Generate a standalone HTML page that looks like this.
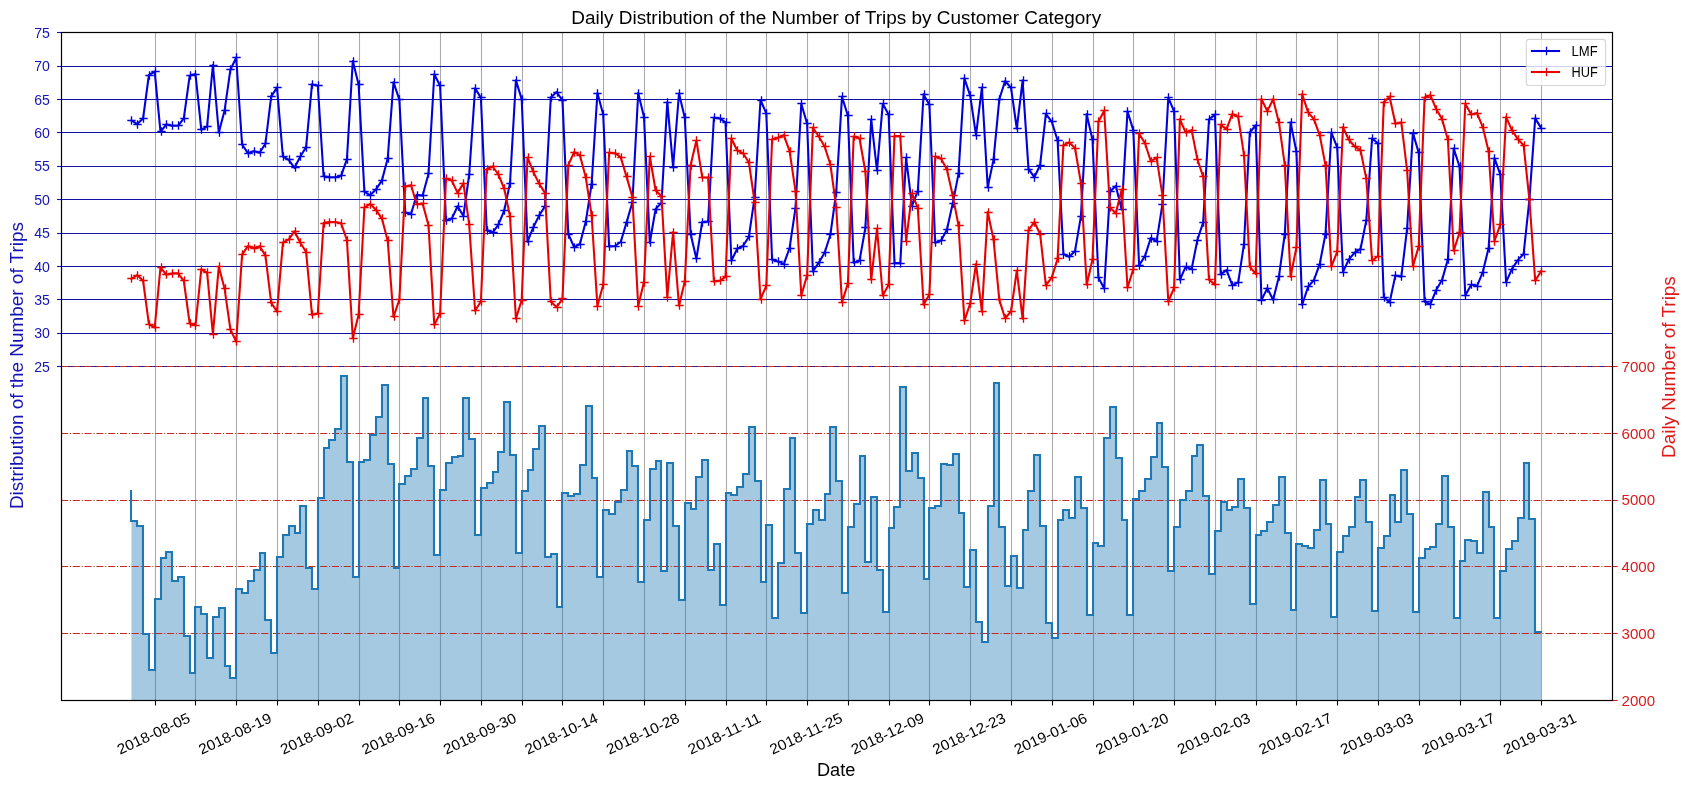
<!DOCTYPE html>
<html><head><meta charset="utf-8"><title>Daily Distribution of the Number of Trips by Customer Category</title>
<style>html,body{margin:0;padding:0;background:#fff;}svg{display:block;will-change:transform;}text{font-family:"Liberation Sans",sans-serif;}</style></head><body>
<svg width="1690" height="790" viewBox="0 0 1690 790">
<rect x="0" y="0" width="1690" height="790" fill="#ffffff"/>
<defs><clipPath id="ax"><rect x="61.00" y="32.60" width="1551.00" height="668.00"/></clipPath></defs>
<g stroke="#ababab" stroke-width="1.1" fill="none"><line x1="155.5" y1="32.6" x2="155.5" y2="700.6"/><line x1="195.5" y1="32.6" x2="195.5" y2="700.6"/><line x1="236.5" y1="32.6" x2="236.5" y2="700.6"/><line x1="277.5" y1="32.6" x2="277.5" y2="700.6"/><line x1="318.5" y1="32.6" x2="318.5" y2="700.6"/><line x1="359.5" y1="32.6" x2="359.5" y2="700.6"/><line x1="399.5" y1="32.6" x2="399.5" y2="700.6"/><line x1="440.5" y1="32.6" x2="440.5" y2="700.6"/><line x1="481.5" y1="32.6" x2="481.5" y2="700.6"/><line x1="522.5" y1="32.6" x2="522.5" y2="700.6"/><line x1="562.5" y1="32.6" x2="562.5" y2="700.6"/><line x1="603.5" y1="32.6" x2="603.5" y2="700.6"/><line x1="644.5" y1="32.6" x2="644.5" y2="700.6"/><line x1="685.5" y1="32.6" x2="685.5" y2="700.6"/><line x1="726.5" y1="32.6" x2="726.5" y2="700.6"/><line x1="766.5" y1="32.6" x2="766.5" y2="700.6"/><line x1="807.5" y1="32.6" x2="807.5" y2="700.6"/><line x1="848.5" y1="32.6" x2="848.5" y2="700.6"/><line x1="889.5" y1="32.6" x2="889.5" y2="700.6"/><line x1="929.5" y1="32.6" x2="929.5" y2="700.6"/><line x1="970.5" y1="32.6" x2="970.5" y2="700.6"/><line x1="1011.5" y1="32.6" x2="1011.5" y2="700.6"/><line x1="1052.5" y1="32.6" x2="1052.5" y2="700.6"/><line x1="1093.5" y1="32.6" x2="1093.5" y2="700.6"/><line x1="1133.5" y1="32.6" x2="1133.5" y2="700.6"/><line x1="1174.5" y1="32.6" x2="1174.5" y2="700.6"/><line x1="1215.5" y1="32.6" x2="1215.5" y2="700.6"/><line x1="1256.5" y1="32.6" x2="1256.5" y2="700.6"/><line x1="1296.5" y1="32.6" x2="1296.5" y2="700.6"/><line x1="1337.5" y1="32.6" x2="1337.5" y2="700.6"/><line x1="1378.5" y1="32.6" x2="1378.5" y2="700.6"/><line x1="1419.5" y1="32.6" x2="1419.5" y2="700.6"/><line x1="1460.5" y1="32.6" x2="1460.5" y2="700.6"/><line x1="1500.5" y1="32.6" x2="1500.5" y2="700.6"/><line x1="1541.5" y1="32.6" x2="1541.5" y2="700.6"/></g>
<g stroke="#1010a8" stroke-width="1.1" fill="none"><line x1="61.0" y1="333.5" x2="1612.0" y2="333.5"/><line x1="61.0" y1="299.5" x2="1612.0" y2="299.5"/><line x1="61.0" y1="266.5" x2="1612.0" y2="266.5"/><line x1="61.0" y1="233.5" x2="1612.0" y2="233.5"/><line x1="61.0" y1="199.5" x2="1612.0" y2="199.5"/><line x1="61.0" y1="166.5" x2="1612.0" y2="166.5"/><line x1="61.0" y1="132.5" x2="1612.0" y2="132.5"/><line x1="61.0" y1="99.5" x2="1612.0" y2="99.5"/><line x1="61.0" y1="66.5" x2="1612.0" y2="66.5"/><line x1="61.0" y1="366.5" x2="1612.0" y2="366.5"/></g>
<g clip-path="url(#ax)"><polyline points="131.4,120.4 137.2,124.1 143.1,118.4 148.9,75.0 154.7,71.7 160.5,131.8 166.4,124.4 172.2,125.8 178.0,125.8 183.8,118.4 189.7,75.7 195.5,74.0 201.3,129.8 207.1,126.5 212.9,65.0 218.8,132.5 224.6,110.4 230.4,69.7 236.2,57.7 242.1,144.5 247.9,153.2 253.7,151.2 259.6,152.8 265.4,143.8 271.2,96.4 277.0,87.7 282.9,156.5 288.7,159.9 294.5,167.9 300.3,156.5 306.1,147.2 312.0,84.4 317.8,85.7 323.6,176.2 329.5,177.2 335.3,177.2 341.1,175.9 346.9,159.2 352.8,61.0 358.6,84.4 364.4,191.6 370.2,195.3 376.1,189.2 381.9,180.6 387.7,158.5 393.5,82.4 399.4,99.7 405.2,212.6 411.0,214.0 416.8,194.9 422.6,195.6 428.5,173.9 434.3,74.3 440.1,85.7 446.0,220.6 451.8,218.6 457.6,206.3 463.4,216.0 469.2,174.5 475.1,88.4 480.9,97.7 486.7,230.0 492.6,232.7 498.4,224.7 504.2,210.6 510.0,183.2 515.9,80.4 521.7,99.1 527.5,241.7 533.3,227.3 539.1,215.6 545.0,206.3 550.8,97.4 556.6,92.1 562.5,100.4 568.3,234.0 574.1,247.1 579.9,244.0 585.8,221.6 591.6,184.2 597.4,93.1 603.2,114.4 609.1,246.4 614.9,246.0 620.7,242.0 626.5,222.6 632.4,202.3 638.2,93.1 644.0,117.1 649.8,242.7 655.6,209.0 661.5,202.9 667.3,102.1 673.1,167.2 679.0,93.5 684.8,117.8 690.6,234.0 696.4,258.7 702.2,222.0 708.1,221.6 713.9,117.8 719.7,118.4 725.5,122.4 731.4,260.7 737.2,248.7 743.0,246.0 748.9,236.7 754.7,196.9 760.5,100.0 766.3,113.4 772.1,259.8 778.0,261.4 783.8,264.1 789.6,248.0 795.5,207.9 801.3,103.7 807.1,123.8 812.9,271.4 818.8,262.7 824.6,252.7 830.4,234.7 836.2,192.3 842.0,96.7 847.9,115.8 853.7,262.7 859.5,260.7 865.4,227.7 871.2,119.4 877.0,170.5 882.8,103.7 888.6,114.4 894.5,263.1 900.3,263.1 906.1,157.8 912.0,205.9 917.8,191.2 923.6,94.4 929.4,104.7 935.2,242.7 941.1,240.4 946.9,229.7 952.7,203.6 958.5,173.9 964.4,78.4 970.2,95.7 976.0,135.1 981.9,87.7 987.7,187.2 993.5,159.9 999.3,99.3 1005.1,81.0 1011.0,87.7 1016.8,128.5 1022.6,80.6 1028.5,168.9 1034.3,177.2 1040.1,165.2 1045.9,113.8 1051.8,121.8 1057.6,140.5 1063.4,254.0 1069.2,256.7 1075.0,251.2 1080.9,216.3 1086.7,114.4 1092.5,139.8 1098.4,277.4 1104.2,288.4 1110.0,191.6 1115.8,185.9 1121.7,209.6 1127.5,111.4 1133.3,130.1 1139.1,265.4 1145.0,256.0 1150.8,238.0 1156.6,241.3 1162.4,204.3 1168.3,97.7 1174.1,111.4 1179.9,279.8 1185.7,266.7 1191.6,269.1 1197.4,240.0 1203.2,222.3 1209.0,119.4 1214.9,114.6 1220.7,274.4 1226.5,270.1 1232.3,285.2 1238.2,282.4 1244.0,244.0 1249.8,132.5 1255.6,125.4 1261.5,300.1 1267.3,288.1 1273.1,299.9 1278.9,276.8 1284.8,234.0 1290.6,122.4 1296.4,151.8 1302.2,304.8 1308.1,286.8 1313.9,280.1 1319.7,264.1 1325.5,234.0 1331.4,132.7 1337.2,147.4 1343.0,272.1 1348.8,259.4 1354.7,252.7 1360.5,249.0 1366.3,220.6 1372.1,138.5 1378.0,143.2 1383.8,297.1 1389.6,302.5 1395.4,275.4 1401.3,276.8 1407.1,228.7 1412.9,132.9 1418.7,152.8 1424.6,301.8 1430.4,304.1 1436.2,290.1 1442.0,280.1 1447.9,259.4 1453.7,148.5 1459.5,166.5 1465.3,295.5 1471.2,284.8 1477.0,286.1 1482.8,272.1 1488.6,248.0 1494.5,158.2 1500.3,174.5 1506.1,282.1 1511.9,269.1 1517.8,260.1 1523.6,254.0 1529.4,199.6 1535.2,118.4 1541.1,128.0" fill="none" stroke="#0000de" stroke-width="2.08" stroke-linejoin="round" stroke-linecap="square"/><path d="M127.3 120.5H135.7M131.5 116.3V124.7M133.3 124.5H141.7M137.5 120.3V128.7M139.3 118.5H147.7M143.5 114.3V122.7M145.3 75.5H153.7M149.5 71.3V79.7M151.3 71.5H159.7M155.5 67.3V75.7M157.3 131.5H165.7M161.5 127.3V135.7M162.3 124.5H170.7M166.5 120.3V128.7M168.3 125.5H176.7M172.5 121.3V129.7M174.3 125.5H182.7M178.5 121.3V129.7M180.3 118.5H188.7M184.5 114.3V122.7M186.3 75.5H194.7M190.5 71.3V79.7M191.3 74.5H199.7M195.5 70.3V78.7M197.3 129.5H205.7M201.5 125.3V133.7M203.3 126.5H211.7M207.5 122.3V130.7M209.3 65.5H217.7M213.5 61.3V69.7M215.3 132.5H223.7M219.5 128.3V136.7M221.3 110.5H229.7M225.5 106.3V114.7M226.3 69.5H234.7M230.5 65.3V73.7M232.3 57.5H240.7M236.5 53.3V61.7M238.3 144.5H246.7M242.5 140.3V148.7M244.3 153.5H252.7M248.5 149.3V157.7M250.3 151.5H258.7M254.5 147.3V155.7M256.3 152.5H264.7M260.5 148.3V156.7M261.3 143.5H269.7M265.5 139.3V147.7M267.3 96.5H275.7M271.5 92.3V100.7M273.3 87.5H281.7M277.5 83.3V91.7M279.3 156.5H287.7M283.5 152.3V160.7M285.3 159.5H293.7M289.5 155.3V163.7M291.3 167.5H299.7M295.5 163.3V171.7M296.3 156.5H304.7M300.5 152.3V160.7M302.3 147.5H310.7M306.5 143.3V151.7M308.3 84.5H316.7M312.5 80.3V88.7M314.3 85.5H322.7M318.5 81.3V89.7M320.3 176.5H328.7M324.5 172.3V180.7M325.3 177.5H333.7M329.5 173.3V181.7M331.3 177.5H339.7M335.5 173.3V181.7M337.3 175.5H345.7M341.5 171.3V179.7M343.3 159.5H351.7M347.5 155.3V163.7M349.3 61.5H357.7M353.5 57.3V65.7M355.3 84.5H363.7M359.5 80.3V88.7M360.3 191.5H368.7M364.5 187.3V195.7M366.3 195.5H374.7M370.5 191.3V199.7M372.3 189.5H380.7M376.5 185.3V193.7M378.3 180.5H386.7M382.5 176.3V184.7M384.3 158.5H392.7M388.5 154.3V162.7M390.3 82.5H398.7M394.5 78.3V86.7M395.3 99.5H403.7M399.5 95.3V103.7M401.3 212.5H409.7M405.5 208.3V216.7M407.3 214.5H415.7M411.5 210.3V218.7M413.3 195.5H421.7M417.5 191.3V199.7M419.3 195.5H427.7M423.5 191.3V199.7M424.3 173.5H432.7M428.5 169.3V177.7M430.3 74.5H438.7M434.5 70.3V78.7M436.3 85.5H444.7M440.5 81.3V89.7M442.3 220.5H450.7M446.5 216.3V224.7M448.3 218.5H456.7M452.5 214.3V222.7M454.3 206.5H462.7M458.5 202.3V210.7M459.3 216.5H467.7M463.5 212.3V220.7M465.3 174.5H473.7M469.5 170.3V178.7M471.3 88.5H479.7M475.5 84.3V92.7M477.3 97.5H485.7M481.5 93.3V101.7M483.3 230.5H491.7M487.5 226.3V234.7M489.3 232.5H497.7M493.5 228.3V236.7M494.3 224.5H502.7M498.5 220.3V228.7M500.3 210.5H508.7M504.5 206.3V214.7M506.3 183.5H514.7M510.5 179.3V187.7M512.3 80.5H520.7M516.5 76.3V84.7M518.3 99.5H526.7M522.5 95.3V103.7M524.3 241.5H532.7M528.5 237.3V245.7M529.3 227.5H537.7M533.5 223.3V231.7M535.3 215.5H543.7M539.5 211.3V219.7M541.3 206.5H549.7M545.5 202.3V210.7M547.3 97.5H555.7M551.5 93.3V101.7M553.3 92.5H561.7M557.5 88.3V96.7M558.3 100.5H566.7M562.5 96.3V104.7M564.3 234.5H572.7M568.5 230.3V238.7M570.3 247.5H578.7M574.5 243.3V251.7M576.3 244.5H584.7M580.5 240.3V248.7M582.3 221.5H590.7M586.5 217.3V225.7M588.3 184.5H596.7M592.5 180.3V188.7M593.3 93.5H601.7M597.5 89.3V97.7M599.3 114.5H607.7M603.5 110.3V118.7M605.3 246.5H613.7M609.5 242.3V250.7M611.3 246.5H619.7M615.5 242.3V250.7M617.3 242.5H625.7M621.5 238.3V246.7M623.3 222.5H631.7M627.5 218.3V226.7M628.3 202.5H636.7M632.5 198.3V206.7M634.3 93.5H642.7M638.5 89.3V97.7M640.3 117.5H648.7M644.5 113.3V121.7M646.3 242.5H654.7M650.5 238.3V246.7M652.3 209.5H660.7M656.5 205.3V213.7M657.3 203.5H665.7M661.5 199.3V207.7M663.3 102.5H671.7M667.5 98.3V106.7M669.3 167.5H677.7M673.5 163.3V171.7M675.3 93.5H683.7M679.5 89.3V97.7M681.3 117.5H689.7M685.5 113.3V121.7M687.3 234.5H695.7M691.5 230.3V238.7M692.3 258.5H700.7M696.5 254.3V262.7M698.3 222.5H706.7M702.5 218.3V226.7M704.3 221.5H712.7M708.5 217.3V225.7M710.3 117.5H718.7M714.5 113.3V121.7M716.3 118.5H724.7M720.5 114.3V122.7M722.3 122.5H730.7M726.5 118.3V126.7M727.3 260.5H735.7M731.5 256.3V264.7M733.3 248.5H741.7M737.5 244.3V252.7M739.3 246.5H747.7M743.5 242.3V250.7M745.3 236.5H753.7M749.5 232.3V240.7M751.3 197.5H759.7M755.5 193.3V201.7M757.3 100.5H765.7M761.5 96.3V104.7M762.3 113.5H770.7M766.5 109.3V117.7M768.3 259.5H776.7M772.5 255.3V263.7M774.3 261.5H782.7M778.5 257.3V265.7M780.3 264.5H788.7M784.5 260.3V268.7M786.3 248.5H794.7M790.5 244.3V252.7M791.3 208.5H799.7M795.5 204.3V212.7M797.3 103.5H805.7M801.5 99.3V107.7M803.3 123.5H811.7M807.5 119.3V127.7M809.3 271.5H817.7M813.5 267.3V275.7M815.3 262.5H823.7M819.5 258.3V266.7M821.3 252.5H829.7M825.5 248.3V256.7M826.3 234.5H834.7M830.5 230.3V238.7M832.3 192.5H840.7M836.5 188.3V196.7M838.3 96.5H846.7M842.5 92.3V100.7M844.3 115.5H852.7M848.5 111.3V119.7M850.3 262.5H858.7M854.5 258.3V266.7M856.3 260.5H864.7M860.5 256.3V264.7M861.3 227.5H869.7M865.5 223.3V231.7M867.3 119.5H875.7M871.5 115.3V123.7M873.3 170.5H881.7M877.5 166.3V174.7M879.3 103.5H887.7M883.5 99.3V107.7M885.3 114.5H893.7M889.5 110.3V118.7M890.3 263.5H898.7M894.5 259.3V267.7M896.3 263.5H904.7M900.5 259.3V267.7M902.3 157.5H910.7M906.5 153.3V161.7M908.3 206.5H916.7M912.5 202.3V210.7M914.3 191.5H922.7M918.5 187.3V195.7M920.3 94.5H928.7M924.5 90.3V98.7M925.3 104.5H933.7M929.5 100.3V108.7M931.3 242.5H939.7M935.5 238.3V246.7M937.3 240.5H945.7M941.5 236.3V244.7M943.3 229.5H951.7M947.5 225.3V233.7M949.3 203.5H957.7M953.5 199.3V207.7M955.3 173.5H963.7M959.5 169.3V177.7M960.3 78.5H968.7M964.5 74.3V82.7M966.3 95.5H974.7M970.5 91.3V99.7M972.3 135.5H980.7M976.5 131.3V139.7M978.3 87.5H986.7M982.5 83.3V91.7M984.3 187.5H992.7M988.5 183.3V191.7M990.3 159.5H998.7M994.5 155.3V163.7M995.3 99.5H1003.7M999.5 95.3V103.7M1001.3 81.5H1009.7M1005.5 77.3V85.7M1007.3 87.5H1015.7M1011.5 83.3V91.7M1013.3 128.5H1021.7M1017.5 124.3V132.7M1019.3 80.5H1027.7M1023.5 76.3V84.7M1024.3 169.5H1032.7M1028.5 165.3V173.7M1030.3 177.5H1038.7M1034.5 173.3V181.7M1036.3 165.5H1044.7M1040.5 161.3V169.7M1042.3 113.5H1050.7M1046.5 109.3V117.7M1048.3 121.5H1056.7M1052.5 117.3V125.7M1054.3 140.5H1062.7M1058.5 136.3V144.7M1059.3 254.5H1067.7M1063.5 250.3V258.7M1065.3 256.5H1073.7M1069.5 252.3V260.7M1071.3 251.5H1079.7M1075.5 247.3V255.7M1077.3 216.5H1085.7M1081.5 212.3V220.7M1083.3 114.5H1091.7M1087.5 110.3V118.7M1089.3 139.5H1097.7M1093.5 135.3V143.7M1094.3 277.5H1102.7M1098.5 273.3V281.7M1100.3 288.5H1108.7M1104.5 284.3V292.7M1106.3 191.5H1114.7M1110.5 187.3V195.7M1112.3 186.5H1120.7M1116.5 182.3V190.7M1118.3 209.5H1126.7M1122.5 205.3V213.7M1123.3 111.5H1131.7M1127.5 107.3V115.7M1129.3 130.5H1137.7M1133.5 126.3V134.7M1135.3 265.5H1143.7M1139.5 261.3V269.7M1141.3 256.5H1149.7M1145.5 252.3V260.7M1147.3 238.5H1155.7M1151.5 234.3V242.7M1153.3 241.5H1161.7M1157.5 237.3V245.7M1158.3 204.5H1166.7M1162.5 200.3V208.7M1164.3 97.5H1172.7M1168.5 93.3V101.7M1170.3 111.5H1178.7M1174.5 107.3V115.7M1176.3 279.5H1184.7M1180.5 275.3V283.7M1182.3 266.5H1190.7M1186.5 262.3V270.7M1188.3 269.5H1196.7M1192.5 265.3V273.7M1193.3 240.5H1201.7M1197.5 236.3V244.7M1199.3 222.5H1207.7M1203.5 218.3V226.7M1205.3 119.5H1213.7M1209.5 115.3V123.7M1211.3 114.5H1219.7M1215.5 110.3V118.7M1217.3 274.5H1225.7M1221.5 270.3V278.7M1223.3 270.5H1231.7M1227.5 266.3V274.7M1228.3 285.5H1236.7M1232.5 281.3V289.7M1234.3 282.5H1242.7M1238.5 278.3V286.7M1240.3 244.5H1248.7M1244.5 240.3V248.7M1246.3 132.5H1254.7M1250.5 128.3V136.7M1252.3 125.5H1260.7M1256.5 121.3V129.7M1257.3 300.5H1265.7M1261.5 296.3V304.7M1263.3 288.5H1271.7M1267.5 284.3V292.7M1269.3 299.5H1277.7M1273.5 295.3V303.7M1275.3 276.5H1283.7M1279.5 272.3V280.7M1281.3 234.5H1289.7M1285.5 230.3V238.7M1287.3 122.5H1295.7M1291.5 118.3V126.7M1292.3 151.5H1300.7M1296.5 147.3V155.7M1298.3 304.5H1306.7M1302.5 300.3V308.7M1304.3 286.5H1312.7M1308.5 282.3V290.7M1310.3 280.5H1318.7M1314.5 276.3V284.7M1316.3 264.5H1324.7M1320.5 260.3V268.7M1322.3 234.5H1330.7M1326.5 230.3V238.7M1327.3 132.5H1335.7M1331.5 128.3V136.7M1333.3 147.5H1341.7M1337.5 143.3V151.7M1339.3 272.5H1347.7M1343.5 268.3V276.7M1345.3 259.5H1353.7M1349.5 255.3V263.7M1351.3 252.5H1359.7M1355.5 248.3V256.7M1356.3 249.5H1364.7M1360.5 245.3V253.7M1362.3 220.5H1370.7M1366.5 216.3V224.7M1368.3 138.5H1376.7M1372.5 134.3V142.7M1374.3 143.5H1382.7M1378.5 139.3V147.7M1380.3 297.5H1388.7M1384.5 293.3V301.7M1386.3 302.5H1394.7M1390.5 298.3V306.7M1391.3 275.5H1399.7M1395.5 271.3V279.7M1397.3 276.5H1405.7M1401.5 272.3V280.7M1403.3 228.5H1411.7M1407.5 224.3V232.7M1409.3 133.5H1417.7M1413.5 129.3V137.7M1415.3 152.5H1423.7M1419.5 148.3V156.7M1421.3 301.5H1429.7M1425.5 297.3V305.7M1426.3 304.5H1434.7M1430.5 300.3V308.7M1432.3 290.5H1440.7M1436.5 286.3V294.7M1438.3 280.5H1446.7M1442.5 276.3V284.7M1444.3 259.5H1452.7M1448.5 255.3V263.7M1450.3 148.5H1458.7M1454.5 144.3V152.7M1456.3 166.5H1464.7M1460.5 162.3V170.7M1461.3 295.5H1469.7M1465.5 291.3V299.7M1467.3 284.5H1475.7M1471.5 280.3V288.7M1473.3 286.5H1481.7M1477.5 282.3V290.7M1479.3 272.5H1487.7M1483.5 268.3V276.7M1485.3 248.5H1493.7M1489.5 244.3V252.7M1490.3 158.5H1498.7M1494.5 154.3V162.7M1496.3 174.5H1504.7M1500.5 170.3V178.7M1502.3 282.5H1510.7M1506.5 278.3V286.7M1508.3 269.5H1516.7M1512.5 265.3V273.7M1514.3 260.5H1522.7M1518.5 256.3V264.7M1520.3 254.5H1528.7M1524.5 250.3V258.7M1525.3 199.5H1533.7M1529.5 195.3V203.7M1531.3 118.5H1539.7M1535.5 114.3V122.7M1537.3 128.5H1545.7M1541.5 124.3V132.7" stroke="#0000de" stroke-width="1.35" fill="none"/></g>
<g clip-path="url(#ax)"><polyline points="131.4,278.8 137.2,275.1 143.1,280.8 148.9,324.2 154.7,327.5 160.5,267.4 166.4,274.8 172.2,273.4 178.0,273.4 183.8,280.8 189.7,323.5 195.5,325.2 201.3,269.4 207.1,272.7 212.9,334.2 218.8,266.7 224.6,288.8 230.4,329.5 236.2,341.6 242.1,254.7 247.9,246.0 253.7,248.0 259.6,246.4 265.4,255.4 271.2,302.8 277.0,311.5 282.9,242.7 288.7,239.3 294.5,231.3 300.3,242.7 306.1,252.0 312.0,314.8 317.8,313.5 323.6,223.0 329.5,222.0 335.3,222.0 341.1,223.3 346.9,240.0 352.8,338.2 358.6,314.8 364.4,207.6 370.2,203.9 376.1,210.0 381.9,218.6 387.7,240.7 393.5,316.8 399.4,299.5 405.2,186.6 411.0,185.2 416.8,204.3 422.6,203.6 428.5,225.3 434.3,324.9 440.1,313.5 446.0,178.6 451.8,180.6 457.6,192.9 463.4,183.2 469.2,224.7 475.1,310.8 480.9,301.5 486.7,169.2 492.6,166.5 498.4,174.5 504.2,188.6 510.0,216.0 515.9,318.8 521.7,300.1 527.5,157.5 533.3,171.9 539.1,183.6 545.0,192.9 550.8,301.8 556.6,307.1 562.5,298.8 568.3,165.2 574.1,152.1 579.9,155.2 585.8,177.6 591.6,215.0 597.4,306.1 603.2,284.8 609.1,152.8 614.9,153.2 620.7,157.2 626.5,176.6 632.4,196.9 638.2,306.1 644.0,282.1 649.8,156.5 655.6,190.2 661.5,196.3 667.3,297.1 673.1,232.0 679.0,305.7 684.8,281.4 690.6,165.2 696.4,140.5 702.2,177.2 708.1,177.6 713.9,281.4 719.7,280.8 725.5,276.8 731.4,138.5 737.2,150.5 743.0,153.2 748.9,162.5 754.7,202.3 760.5,299.2 766.3,285.8 772.1,139.4 778.0,137.8 783.8,135.1 789.6,151.2 795.5,191.2 801.3,295.5 807.1,275.4 812.9,127.8 818.8,136.5 824.6,146.5 830.4,164.5 836.2,206.9 842.0,302.5 847.9,283.4 853.7,136.5 859.5,138.5 865.4,171.5 871.2,279.8 877.0,228.7 882.8,295.5 888.6,284.8 894.5,136.1 900.3,136.1 906.1,241.3 912.0,193.3 917.8,207.9 923.6,304.8 929.4,294.5 935.2,156.5 941.1,158.8 946.9,169.5 952.7,195.6 958.5,225.3 964.4,320.8 970.2,303.5 976.0,264.1 981.9,311.5 987.7,212.0 993.5,239.3 999.3,299.9 1005.1,318.2 1011.0,311.5 1016.8,270.7 1022.6,318.6 1028.5,230.3 1034.3,222.0 1040.1,234.0 1045.9,285.4 1051.8,277.4 1057.6,258.7 1063.4,145.2 1069.2,142.5 1075.0,148.0 1080.9,182.9 1086.7,284.8 1092.5,259.4 1098.4,121.8 1104.2,110.8 1110.0,207.6 1115.8,213.3 1121.7,189.6 1127.5,287.8 1133.3,269.1 1139.1,133.8 1145.0,143.2 1150.8,161.2 1156.6,157.8 1162.4,194.9 1168.3,301.5 1174.1,287.8 1179.9,119.4 1185.7,132.5 1191.6,130.1 1197.4,159.2 1203.2,176.9 1209.0,279.8 1214.9,284.6 1220.7,124.8 1226.5,129.1 1232.3,114.0 1238.2,116.8 1244.0,155.2 1249.8,266.7 1255.6,273.8 1261.5,99.1 1267.3,111.1 1273.1,99.3 1278.9,122.4 1284.8,165.2 1290.6,276.8 1296.4,247.4 1302.2,94.4 1308.1,112.4 1313.9,119.1 1319.7,135.1 1325.5,165.2 1331.4,266.5 1337.2,251.8 1343.0,127.1 1348.8,139.8 1354.7,146.5 1360.5,150.2 1366.3,178.6 1372.1,260.7 1378.0,256.0 1383.8,102.1 1389.6,96.7 1395.4,123.8 1401.3,122.4 1407.1,170.5 1412.9,266.3 1418.7,246.4 1424.6,97.4 1430.4,95.1 1436.2,109.1 1442.0,119.1 1447.9,139.8 1453.7,250.7 1459.5,232.7 1465.3,103.7 1471.2,114.4 1477.0,113.1 1482.8,127.1 1488.6,151.2 1494.5,241.0 1500.3,224.7 1506.1,117.1 1511.9,130.1 1517.8,139.1 1523.6,145.2 1529.4,199.6 1535.2,280.8 1541.1,271.2" fill="none" stroke="#e80000" stroke-width="2.08" stroke-linejoin="round" stroke-linecap="square"/><path d="M127.3 278.5H135.7M131.5 274.3V282.7M133.3 275.5H141.7M137.5 271.3V279.7M139.3 280.5H147.7M143.5 276.3V284.7M145.3 324.5H153.7M149.5 320.3V328.7M151.3 327.5H159.7M155.5 323.3V331.7M157.3 267.5H165.7M161.5 263.3V271.7M162.3 274.5H170.7M166.5 270.3V278.7M168.3 273.5H176.7M172.5 269.3V277.7M174.3 273.5H182.7M178.5 269.3V277.7M180.3 280.5H188.7M184.5 276.3V284.7M186.3 323.5H194.7M190.5 319.3V327.7M191.3 325.5H199.7M195.5 321.3V329.7M197.3 269.5H205.7M201.5 265.3V273.7M203.3 272.5H211.7M207.5 268.3V276.7M209.3 334.5H217.7M213.5 330.3V338.7M215.3 266.5H223.7M219.5 262.3V270.7M221.3 288.5H229.7M225.5 284.3V292.7M226.3 329.5H234.7M230.5 325.3V333.7M232.3 341.5H240.7M236.5 337.3V345.7M238.3 254.5H246.7M242.5 250.3V258.7M244.3 246.5H252.7M248.5 242.3V250.7M250.3 248.5H258.7M254.5 244.3V252.7M256.3 246.5H264.7M260.5 242.3V250.7M261.3 255.5H269.7M265.5 251.3V259.7M267.3 302.5H275.7M271.5 298.3V306.7M273.3 311.5H281.7M277.5 307.3V315.7M279.3 242.5H287.7M283.5 238.3V246.7M285.3 239.5H293.7M289.5 235.3V243.7M291.3 231.5H299.7M295.5 227.3V235.7M296.3 242.5H304.7M300.5 238.3V246.7M302.3 252.5H310.7M306.5 248.3V256.7M308.3 314.5H316.7M312.5 310.3V318.7M314.3 313.5H322.7M318.5 309.3V317.7M320.3 223.5H328.7M324.5 219.3V227.7M325.3 222.5H333.7M329.5 218.3V226.7M331.3 222.5H339.7M335.5 218.3V226.7M337.3 223.5H345.7M341.5 219.3V227.7M343.3 240.5H351.7M347.5 236.3V244.7M349.3 338.5H357.7M353.5 334.3V342.7M355.3 314.5H363.7M359.5 310.3V318.7M360.3 207.5H368.7M364.5 203.3V211.7M366.3 204.5H374.7M370.5 200.3V208.7M372.3 210.5H380.7M376.5 206.3V214.7M378.3 218.5H386.7M382.5 214.3V222.7M384.3 240.5H392.7M388.5 236.3V244.7M390.3 316.5H398.7M394.5 312.3V320.7M395.3 299.5H403.7M399.5 295.3V303.7M401.3 186.5H409.7M405.5 182.3V190.7M407.3 185.5H415.7M411.5 181.3V189.7M413.3 204.5H421.7M417.5 200.3V208.7M419.3 203.5H427.7M423.5 199.3V207.7M424.3 225.5H432.7M428.5 221.3V229.7M430.3 324.5H438.7M434.5 320.3V328.7M436.3 313.5H444.7M440.5 309.3V317.7M442.3 178.5H450.7M446.5 174.3V182.7M448.3 180.5H456.7M452.5 176.3V184.7M454.3 193.5H462.7M458.5 189.3V197.7M459.3 183.5H467.7M463.5 179.3V187.7M465.3 224.5H473.7M469.5 220.3V228.7M471.3 310.5H479.7M475.5 306.3V314.7M477.3 301.5H485.7M481.5 297.3V305.7M483.3 169.5H491.7M487.5 165.3V173.7M489.3 166.5H497.7M493.5 162.3V170.7M494.3 174.5H502.7M498.5 170.3V178.7M500.3 188.5H508.7M504.5 184.3V192.7M506.3 216.5H514.7M510.5 212.3V220.7M512.3 318.5H520.7M516.5 314.3V322.7M518.3 300.5H526.7M522.5 296.3V304.7M524.3 157.5H532.7M528.5 153.3V161.7M529.3 171.5H537.7M533.5 167.3V175.7M535.3 183.5H543.7M539.5 179.3V187.7M541.3 193.5H549.7M545.5 189.3V197.7M547.3 301.5H555.7M551.5 297.3V305.7M553.3 307.5H561.7M557.5 303.3V311.7M558.3 298.5H566.7M562.5 294.3V302.7M564.3 165.5H572.7M568.5 161.3V169.7M570.3 152.5H578.7M574.5 148.3V156.7M576.3 155.5H584.7M580.5 151.3V159.7M582.3 177.5H590.7M586.5 173.3V181.7M588.3 215.5H596.7M592.5 211.3V219.7M593.3 306.5H601.7M597.5 302.3V310.7M599.3 284.5H607.7M603.5 280.3V288.7M605.3 152.5H613.7M609.5 148.3V156.7M611.3 153.5H619.7M615.5 149.3V157.7M617.3 157.5H625.7M621.5 153.3V161.7M623.3 176.5H631.7M627.5 172.3V180.7M628.3 197.5H636.7M632.5 193.3V201.7M634.3 306.5H642.7M638.5 302.3V310.7M640.3 282.5H648.7M644.5 278.3V286.7M646.3 156.5H654.7M650.5 152.3V160.7M652.3 190.5H660.7M656.5 186.3V194.7M657.3 196.5H665.7M661.5 192.3V200.7M663.3 297.5H671.7M667.5 293.3V301.7M669.3 232.5H677.7M673.5 228.3V236.7M675.3 305.5H683.7M679.5 301.3V309.7M681.3 281.5H689.7M685.5 277.3V285.7M687.3 165.5H695.7M691.5 161.3V169.7M692.3 140.5H700.7M696.5 136.3V144.7M698.3 177.5H706.7M702.5 173.3V181.7M704.3 177.5H712.7M708.5 173.3V181.7M710.3 281.5H718.7M714.5 277.3V285.7M716.3 280.5H724.7M720.5 276.3V284.7M722.3 276.5H730.7M726.5 272.3V280.7M727.3 138.5H735.7M731.5 134.3V142.7M733.3 150.5H741.7M737.5 146.3V154.7M739.3 153.5H747.7M743.5 149.3V157.7M745.3 162.5H753.7M749.5 158.3V166.7M751.3 202.5H759.7M755.5 198.3V206.7M757.3 299.5H765.7M761.5 295.3V303.7M762.3 285.5H770.7M766.5 281.3V289.7M768.3 139.5H776.7M772.5 135.3V143.7M774.3 137.5H782.7M778.5 133.3V141.7M780.3 135.5H788.7M784.5 131.3V139.7M786.3 151.5H794.7M790.5 147.3V155.7M791.3 191.5H799.7M795.5 187.3V195.7M797.3 295.5H805.7M801.5 291.3V299.7M803.3 275.5H811.7M807.5 271.3V279.7M809.3 127.5H817.7M813.5 123.3V131.7M815.3 136.5H823.7M819.5 132.3V140.7M821.3 146.5H829.7M825.5 142.3V150.7M826.3 164.5H834.7M830.5 160.3V168.7M832.3 207.5H840.7M836.5 203.3V211.7M838.3 302.5H846.7M842.5 298.3V306.7M844.3 283.5H852.7M848.5 279.3V287.7M850.3 136.5H858.7M854.5 132.3V140.7M856.3 138.5H864.7M860.5 134.3V142.7M861.3 171.5H869.7M865.5 167.3V175.7M867.3 279.5H875.7M871.5 275.3V283.7M873.3 228.5H881.7M877.5 224.3V232.7M879.3 295.5H887.7M883.5 291.3V299.7M885.3 284.5H893.7M889.5 280.3V288.7M890.3 136.5H898.7M894.5 132.3V140.7M896.3 136.5H904.7M900.5 132.3V140.7M902.3 241.5H910.7M906.5 237.3V245.7M908.3 193.5H916.7M912.5 189.3V197.7M914.3 208.5H922.7M918.5 204.3V212.7M920.3 304.5H928.7M924.5 300.3V308.7M925.3 294.5H933.7M929.5 290.3V298.7M931.3 156.5H939.7M935.5 152.3V160.7M937.3 158.5H945.7M941.5 154.3V162.7M943.3 169.5H951.7M947.5 165.3V173.7M949.3 195.5H957.7M953.5 191.3V199.7M955.3 225.5H963.7M959.5 221.3V229.7M960.3 320.5H968.7M964.5 316.3V324.7M966.3 303.5H974.7M970.5 299.3V307.7M972.3 264.5H980.7M976.5 260.3V268.7M978.3 311.5H986.7M982.5 307.3V315.7M984.3 212.5H992.7M988.5 208.3V216.7M990.3 239.5H998.7M994.5 235.3V243.7M995.3 299.5H1003.7M999.5 295.3V303.7M1001.3 318.5H1009.7M1005.5 314.3V322.7M1007.3 311.5H1015.7M1011.5 307.3V315.7M1013.3 270.5H1021.7M1017.5 266.3V274.7M1019.3 318.5H1027.7M1023.5 314.3V322.7M1024.3 230.5H1032.7M1028.5 226.3V234.7M1030.3 222.5H1038.7M1034.5 218.3V226.7M1036.3 234.5H1044.7M1040.5 230.3V238.7M1042.3 285.5H1050.7M1046.5 281.3V289.7M1048.3 277.5H1056.7M1052.5 273.3V281.7M1054.3 258.5H1062.7M1058.5 254.3V262.7M1059.3 145.5H1067.7M1063.5 141.3V149.7M1065.3 142.5H1073.7M1069.5 138.3V146.7M1071.3 148.5H1079.7M1075.5 144.3V152.7M1077.3 183.5H1085.7M1081.5 179.3V187.7M1083.3 284.5H1091.7M1087.5 280.3V288.7M1089.3 259.5H1097.7M1093.5 255.3V263.7M1094.3 121.5H1102.7M1098.5 117.3V125.7M1100.3 110.5H1108.7M1104.5 106.3V114.7M1106.3 207.5H1114.7M1110.5 203.3V211.7M1112.3 213.5H1120.7M1116.5 209.3V217.7M1118.3 189.5H1126.7M1122.5 185.3V193.7M1123.3 287.5H1131.7M1127.5 283.3V291.7M1129.3 269.5H1137.7M1133.5 265.3V273.7M1135.3 133.5H1143.7M1139.5 129.3V137.7M1141.3 143.5H1149.7M1145.5 139.3V147.7M1147.3 161.5H1155.7M1151.5 157.3V165.7M1153.3 157.5H1161.7M1157.5 153.3V161.7M1158.3 195.5H1166.7M1162.5 191.3V199.7M1164.3 301.5H1172.7M1168.5 297.3V305.7M1170.3 287.5H1178.7M1174.5 283.3V291.7M1176.3 119.5H1184.7M1180.5 115.3V123.7M1182.3 132.5H1190.7M1186.5 128.3V136.7M1188.3 130.5H1196.7M1192.5 126.3V134.7M1193.3 159.5H1201.7M1197.5 155.3V163.7M1199.3 176.5H1207.7M1203.5 172.3V180.7M1205.3 279.5H1213.7M1209.5 275.3V283.7M1211.3 284.5H1219.7M1215.5 280.3V288.7M1217.3 124.5H1225.7M1221.5 120.3V128.7M1223.3 129.5H1231.7M1227.5 125.3V133.7M1228.3 114.5H1236.7M1232.5 110.3V118.7M1234.3 116.5H1242.7M1238.5 112.3V120.7M1240.3 155.5H1248.7M1244.5 151.3V159.7M1246.3 266.5H1254.7M1250.5 262.3V270.7M1252.3 273.5H1260.7M1256.5 269.3V277.7M1257.3 99.5H1265.7M1261.5 95.3V103.7M1263.3 111.5H1271.7M1267.5 107.3V115.7M1269.3 99.5H1277.7M1273.5 95.3V103.7M1275.3 122.5H1283.7M1279.5 118.3V126.7M1281.3 165.5H1289.7M1285.5 161.3V169.7M1287.3 276.5H1295.7M1291.5 272.3V280.7M1292.3 247.5H1300.7M1296.5 243.3V251.7M1298.3 94.5H1306.7M1302.5 90.3V98.7M1304.3 112.5H1312.7M1308.5 108.3V116.7M1310.3 119.5H1318.7M1314.5 115.3V123.7M1316.3 135.5H1324.7M1320.5 131.3V139.7M1322.3 165.5H1330.7M1326.5 161.3V169.7M1327.3 266.5H1335.7M1331.5 262.3V270.7M1333.3 251.5H1341.7M1337.5 247.3V255.7M1339.3 127.5H1347.7M1343.5 123.3V131.7M1345.3 139.5H1353.7M1349.5 135.3V143.7M1351.3 146.5H1359.7M1355.5 142.3V150.7M1356.3 150.5H1364.7M1360.5 146.3V154.7M1362.3 178.5H1370.7M1366.5 174.3V182.7M1368.3 260.5H1376.7M1372.5 256.3V264.7M1374.3 256.5H1382.7M1378.5 252.3V260.7M1380.3 102.5H1388.7M1384.5 98.3V106.7M1386.3 96.5H1394.7M1390.5 92.3V100.7M1391.3 123.5H1399.7M1395.5 119.3V127.7M1397.3 122.5H1405.7M1401.5 118.3V126.7M1403.3 170.5H1411.7M1407.5 166.3V174.7M1409.3 266.5H1417.7M1413.5 262.3V270.7M1415.3 246.5H1423.7M1419.5 242.3V250.7M1421.3 97.5H1429.7M1425.5 93.3V101.7M1426.3 95.5H1434.7M1430.5 91.3V99.7M1432.3 109.5H1440.7M1436.5 105.3V113.7M1438.3 119.5H1446.7M1442.5 115.3V123.7M1444.3 139.5H1452.7M1448.5 135.3V143.7M1450.3 250.5H1458.7M1454.5 246.3V254.7M1456.3 232.5H1464.7M1460.5 228.3V236.7M1461.3 103.5H1469.7M1465.5 99.3V107.7M1467.3 114.5H1475.7M1471.5 110.3V118.7M1473.3 113.5H1481.7M1477.5 109.3V117.7M1479.3 127.5H1487.7M1483.5 123.3V131.7M1485.3 151.5H1493.7M1489.5 147.3V155.7M1490.3 241.5H1498.7M1494.5 237.3V245.7M1496.3 224.5H1504.7M1500.5 220.3V228.7M1502.3 117.5H1510.7M1506.5 113.3V121.7M1508.3 130.5H1516.7M1512.5 126.3V134.7M1514.3 139.5H1522.7M1518.5 135.3V143.7M1520.3 145.5H1528.7M1524.5 141.3V149.7M1525.3 199.5H1533.7M1529.5 195.3V203.7M1531.3 280.5H1539.7M1535.5 276.3V284.7M1537.3 271.5H1545.7M1541.5 267.3V275.7" stroke="#e80000" stroke-width="1.35" fill="none"/></g>
<rect x="1526.3" y="39.4" width="79.3" height="46.1" rx="2.8" ry="2.8" fill="#ffffff" fill-opacity="0.8" stroke="#cccccc" stroke-opacity="0.8" stroke-width="1.1"/>
<line x1="1530.9" y1="51.0" x2="1560.1" y2="51.0" stroke="#0000de" stroke-width="2.08"/>
<path d="M1542.3 51.0H1550.7M1546.5 46.8V55.2" stroke="#0000de" stroke-width="1.25" fill="none"/>
<text x="1571.5" y="55.9" font-size="14.6" fill="#000000" textLength="26.2" lengthAdjust="spacingAndGlyphs">LMF</text>
<line x1="1530.9" y1="72.0" x2="1560.1" y2="72.0" stroke="#e80000" stroke-width="2.08"/>
<path d="M1542.3 72.0H1550.7M1546.5 67.8V76.2" stroke="#e80000" stroke-width="1.25" fill="none"/>
<text x="1571.5" y="76.9" font-size="14.6" fill="#000000" textLength="26.3" lengthAdjust="spacingAndGlyphs">HUF</text>
<path d="M131.40 700.60L131.40 490.71V521.31H137.22V526.19H143.05V633.67H148.88V669.54H154.70V598.66H160.53V557.85H166.35V551.84H172.18V580.89H178.00V576.75H183.83V636.27H189.65V673.41H195.48V606.61H201.30V613.69H207.12V657.71H212.95V616.97H218.78V607.68H224.60V665.93H230.43V677.75H236.25V588.58H242.07V592.65H247.90V580.89H253.73V570.14H259.55V552.50H265.38V619.50H271.20V652.84H277.02V556.85H282.85V535.47H288.68V525.58H294.50V533.33H300.33V505.88H306.15V567.53H311.98V589.44H317.80V497.73H323.62V448.10H329.45V440.15H335.27V429.26H341.10V375.68H346.93V461.99H352.75V576.75H358.58V461.99H364.40V459.85H370.23V434.80H376.05V417.43H381.88V384.50H387.70V464.13H393.52V567.94H399.35V484.44H405.18V475.88H411.00V468.80H416.83V438.01H422.65V398.40H428.48V465.86H434.30V555.11H440.12V490.45H445.95V463.06H451.77V457.05H457.60V455.58H463.43V397.73H469.25V439.08H475.08V535.47H480.90V488.04H486.73V482.97H492.55V472.01H498.38V452.37H504.20V402.47H510.02V454.91H515.85V552.50H521.68V490.91H527.50V470.14H533.33V449.16H539.15V425.58H544.98V556.85H550.80V553.57H556.62V607.28H562.45V493.05H568.27V495.79H574.10V494.05H579.93V465.20H585.75V406.35H591.58V478.02H597.40V576.55H603.23V509.75H609.05V514.43H614.88V501.60H620.70V489.85H626.52V451.30H632.35V465.86H638.18V581.90H644.00V519.77H649.83V469.07H655.65V461.12H661.48V570.74H667.30V463.46H673.12V525.58H678.95V600.40H684.77V502.67H690.60V508.68H696.42V476.95H702.25V460.25H708.08V569.67H713.90V543.89H719.73V604.68H725.55V493.05H731.38V495.19H737.20V487.04H743.02V473.75H748.85V426.65H754.67V481.23H760.50V581.90H766.33V524.72H772.15V618.44H777.98V562.79H783.80V489.18H789.62V438.41H795.45V553.17H801.27V612.62H807.10V523.65H812.92V509.75H818.75V520.44H824.58V494.05H830.40V427.25H836.23V481.23H842.05V592.92H847.88V526.65H853.70V503.74H859.52V456.18H865.35V561.72H871.17V496.86H877.00V570.34H882.83V612.02H888.65V527.72H894.48V506.95H900.30V386.64H906.12V470.94H911.95V453.44H917.77V478.02H923.60V578.69H929.42V508.02H935.25V505.88H941.08V464.13H946.90V465.20H952.73V454.04H958.55V512.96H964.38V586.91H970.20V549.90H976.02V621.64H981.85V641.68H987.67V505.88H993.50V383.43H999.33V526.65H1005.15V585.77H1010.98V556.18H1016.80V587.91H1022.62V530.46H1028.45V490.91H1034.28V455.11H1040.10V525.58H1045.92V622.71H1051.75V638.41H1057.58V519.77H1063.40V509.75H1069.23V517.63H1075.05V477.42H1080.88V507.61H1086.70V614.76H1092.53V542.82H1098.35V546.49H1104.17V438.41H1110.00V407.41H1115.83V458.32H1121.65V520.44H1127.48V614.76H1133.30V499.00H1139.12V490.91H1144.95V478.69H1150.78V457.05H1156.60V423.45H1162.43V466.93H1168.25V571.41H1174.08V527.25H1179.90V499.87H1185.73V490.91H1191.55V455.98H1197.38V445.29H1203.20V495.79H1209.03V573.95H1214.85V531.46H1220.68V501.60H1226.50V509.75H1232.33V506.95H1238.15V478.69H1243.98V508.42H1249.80V603.61H1255.63V535.07H1261.45V531.46H1267.28V521.51H1273.10V504.81H1278.93V476.95H1284.75V533.13H1290.58V609.82H1296.40V543.89H1302.23V545.62H1308.05V547.56H1313.88V530.46H1319.70V479.76H1325.53V523.65H1331.35V616.97H1337.18V551.84H1343.00V536.14H1348.83V526.65H1354.65V496.66H1360.48V479.76H1366.30V521.51H1372.13V610.95H1377.95V547.56H1383.78V536.14H1389.60V494.72H1395.43V522.38H1401.25V470.14H1407.08V514.43H1412.90V612.02H1418.73V557.85H1424.55V549.30H1430.38V546.69H1436.20V523.65H1442.03V475.88H1447.85V527.25H1453.68V617.57H1459.50V560.65H1465.33V539.61H1471.15V540.68H1476.98V552.50H1482.80V491.98H1488.63V527.25H1494.45V618.04H1500.28V570.74H1506.10V548.83H1511.93V541.35H1517.75V517.63H1523.58V463.06H1529.40V519.37H1535.23V631.53H1541.05V700.60Z" fill="#1f77b4" fill-opacity="0.4" stroke="none"/>
<g stroke="#c22a2a" stroke-width="1.1" fill="none" stroke-dasharray="7.11 1.78 1.11 1.78"><line x1="61.0" y1="633.5" x2="1612.0" y2="633.5"/><line x1="61.0" y1="566.5" x2="1612.0" y2="566.5"/><line x1="61.0" y1="500.5" x2="1612.0" y2="500.5"/><line x1="61.0" y1="433.5" x2="1612.0" y2="433.5"/><line x1="61.0" y1="366.5" x2="1612.0" y2="366.5"/></g>
<path d="M131.00 491.00V521.00H137.00V526.00H143.00V634.00H149.00V670.00H155.00V599.00H161.00V558.00H166.00V552.00H172.00V581.00H178.00V577.00H184.00V636.00H190.00V673.00H195.00V607.00H201.00V614.00H207.00V658.00H213.00V617.00H219.00V608.00H225.00V666.00H230.00V678.00H236.00V589.00H242.00V593.00H248.00V581.00H254.00V570.00H260.00V553.00H265.00V620.00H271.00V653.00H277.00V557.00H283.00V535.00H289.00V526.00H295.00V533.00H300.00V506.00H306.00V568.00H312.00V589.00H318.00V498.00H324.00V448.00H329.00V440.00H335.00V429.00H341.00V376.00H347.00V462.00H353.00V577.00H359.00V462.00H364.00V460.00H370.00V435.00H376.00V417.00H382.00V385.00H388.00V464.00H394.00V568.00H399.00V484.00H405.00V476.00H411.00V469.00H417.00V438.00H423.00V398.00H428.00V466.00H434.00V555.00H440.00V490.00H446.00V463.00H452.00V457.00H458.00V456.00H463.00V398.00H469.00V439.00H475.00V535.00H481.00V488.00H487.00V483.00H493.00V472.00H498.00V452.00H504.00V402.00H510.00V455.00H516.00V553.00H522.00V491.00H528.00V470.00H533.00V449.00H539.00V426.00H545.00V557.00H551.00V554.00H557.00V607.00H562.00V493.00H568.00V496.00H574.00V494.00H580.00V465.00H586.00V406.00H592.00V478.00H597.00V577.00H603.00V510.00H609.00V514.00H615.00V502.00H621.00V490.00H627.00V451.00H632.00V466.00H638.00V582.00H644.00V520.00H650.00V469.00H656.00V461.00H661.00V571.00H667.00V463.00H673.00V526.00H679.00V600.00H685.00V503.00H691.00V509.00H696.00V477.00H702.00V460.00H708.00V570.00H714.00V544.00H720.00V605.00H726.00V493.00H731.00V495.00H737.00V487.00H743.00V474.00H749.00V427.00H755.00V481.00H761.00V582.00H766.00V525.00H772.00V618.00H778.00V563.00H784.00V489.00H790.00V438.00H795.00V553.00H801.00V613.00H807.00V524.00H813.00V510.00H819.00V520.00H825.00V494.00H830.00V427.00H836.00V481.00H842.00V593.00H848.00V527.00H854.00V504.00H860.00V456.00H865.00V562.00H871.00V497.00H877.00V570.00H883.00V612.00H889.00V528.00H894.00V507.00H900.00V387.00H906.00V471.00H912.00V453.00H918.00V478.00H924.00V579.00H929.00V508.00H935.00V506.00H941.00V464.00H947.00V465.00H953.00V454.00H959.00V513.00H964.00V587.00H970.00V550.00H976.00V622.00H982.00V642.00H988.00V506.00H994.00V383.00H999.00V527.00H1005.00V586.00H1011.00V556.00H1017.00V588.00H1023.00V530.00H1028.00V491.00H1034.00V455.00H1040.00V526.00H1046.00V623.00H1052.00V638.00H1058.00V520.00H1063.00V510.00H1069.00V518.00H1075.00V477.00H1081.00V508.00H1087.00V615.00H1093.00V543.00H1098.00V546.00H1104.00V438.00H1110.00V407.00H1116.00V458.00H1122.00V520.00H1127.00V615.00H1133.00V499.00H1139.00V491.00H1145.00V479.00H1151.00V457.00H1157.00V423.00H1162.00V467.00H1168.00V571.00H1174.00V527.00H1180.00V500.00H1186.00V491.00H1192.00V456.00H1197.00V445.00H1203.00V496.00H1209.00V574.00H1215.00V531.00H1221.00V502.00H1227.00V510.00H1232.00V507.00H1238.00V479.00H1244.00V508.00H1250.00V604.00H1256.00V535.00H1261.00V531.00H1267.00V522.00H1273.00V505.00H1279.00V477.00H1285.00V533.00H1291.00V610.00H1296.00V544.00H1302.00V546.00H1308.00V548.00H1314.00V530.00H1320.00V480.00H1326.00V524.00H1331.00V617.00H1337.00V552.00H1343.00V536.00H1349.00V527.00H1355.00V497.00H1360.00V480.00H1366.00V522.00H1372.00V611.00H1378.00V548.00H1384.00V536.00H1390.00V495.00H1395.00V522.00H1401.00V470.00H1407.00V514.00H1413.00V612.00H1419.00V558.00H1425.00V549.00H1430.00V547.00H1436.00V524.00H1442.00V476.00H1448.00V527.00H1454.00V618.00H1460.00V561.00H1465.00V540.00H1471.00V541.00H1477.00V553.00H1483.00V492.00H1489.00V527.00H1494.00V618.00H1500.00V571.00H1506.00V549.00H1512.00V541.00H1518.00V518.00H1524.00V463.00H1529.00V519.00H1535.00V632.00H1541.00" fill="none" stroke="#1f77b4" stroke-width="2.08" stroke-linejoin="miter" stroke-linecap="square"/>
<g stroke="#000000" stroke-width="1.1" fill="none"><line x1="155.5" y1="700.6" x2="155.5" y2="705.5"/><line x1="195.5" y1="700.6" x2="195.5" y2="705.5"/><line x1="236.5" y1="700.6" x2="236.5" y2="705.5"/><line x1="277.5" y1="700.6" x2="277.5" y2="705.5"/><line x1="318.5" y1="700.6" x2="318.5" y2="705.5"/><line x1="359.5" y1="700.6" x2="359.5" y2="705.5"/><line x1="399.5" y1="700.6" x2="399.5" y2="705.5"/><line x1="440.5" y1="700.6" x2="440.5" y2="705.5"/><line x1="481.5" y1="700.6" x2="481.5" y2="705.5"/><line x1="522.5" y1="700.6" x2="522.5" y2="705.5"/><line x1="562.5" y1="700.6" x2="562.5" y2="705.5"/><line x1="603.5" y1="700.6" x2="603.5" y2="705.5"/><line x1="644.5" y1="700.6" x2="644.5" y2="705.5"/><line x1="685.5" y1="700.6" x2="685.5" y2="705.5"/><line x1="726.5" y1="700.6" x2="726.5" y2="705.5"/><line x1="766.5" y1="700.6" x2="766.5" y2="705.5"/><line x1="807.5" y1="700.6" x2="807.5" y2="705.5"/><line x1="848.5" y1="700.6" x2="848.5" y2="705.5"/><line x1="889.5" y1="700.6" x2="889.5" y2="705.5"/><line x1="929.5" y1="700.6" x2="929.5" y2="705.5"/><line x1="970.5" y1="700.6" x2="970.5" y2="705.5"/><line x1="1011.5" y1="700.6" x2="1011.5" y2="705.5"/><line x1="1052.5" y1="700.6" x2="1052.5" y2="705.5"/><line x1="1093.5" y1="700.6" x2="1093.5" y2="705.5"/><line x1="1133.5" y1="700.6" x2="1133.5" y2="705.5"/><line x1="1174.5" y1="700.6" x2="1174.5" y2="705.5"/><line x1="1215.5" y1="700.6" x2="1215.5" y2="705.5"/><line x1="1256.5" y1="700.6" x2="1256.5" y2="705.5"/><line x1="1296.5" y1="700.6" x2="1296.5" y2="705.5"/><line x1="1337.5" y1="700.6" x2="1337.5" y2="705.5"/><line x1="1378.5" y1="700.6" x2="1378.5" y2="705.5"/><line x1="1419.5" y1="700.6" x2="1419.5" y2="705.5"/><line x1="1460.5" y1="700.6" x2="1460.5" y2="705.5"/><line x1="1500.5" y1="700.6" x2="1500.5" y2="705.5"/><line x1="1541.5" y1="700.6" x2="1541.5" y2="705.5"/></g>
<g stroke="#1414b4" stroke-width="1.1" fill="none"><line x1="57.0" y1="366.5" x2="61.0" y2="366.5"/><line x1="57.0" y1="333.5" x2="61.0" y2="333.5"/><line x1="57.0" y1="299.5" x2="61.0" y2="299.5"/><line x1="57.0" y1="266.5" x2="61.0" y2="266.5"/><line x1="57.0" y1="233.5" x2="61.0" y2="233.5"/><line x1="57.0" y1="199.5" x2="61.0" y2="199.5"/><line x1="57.0" y1="166.5" x2="61.0" y2="166.5"/><line x1="57.0" y1="132.5" x2="61.0" y2="132.5"/><line x1="57.0" y1="99.5" x2="61.0" y2="99.5"/><line x1="57.0" y1="66.5" x2="61.0" y2="66.5"/><line x1="57.0" y1="32.5" x2="61.0" y2="32.5"/></g>
<g stroke="#de1a1a" stroke-width="1.1" fill="none"><line x1="1613.0" y1="700.5" x2="1617.7" y2="700.5"/><line x1="1613.0" y1="633.5" x2="1617.7" y2="633.5"/><line x1="1613.0" y1="566.5" x2="1617.7" y2="566.5"/><line x1="1613.0" y1="500.5" x2="1617.7" y2="500.5"/><line x1="1613.0" y1="433.5" x2="1617.7" y2="433.5"/><line x1="1613.0" y1="366.5" x2="1617.7" y2="366.5"/></g>
<rect x="61.5" y="32.5" width="1551.0" height="668.0" fill="none" stroke="#000000" stroke-width="1.2"/>
<g font-size="14.6" fill="#1414b4" text-anchor="end"><text x="49.9" y="371.7" textLength="15.7" lengthAdjust="spacingAndGlyphs">25</text><text x="49.9" y="338.3" textLength="15.7" lengthAdjust="spacingAndGlyphs">30</text><text x="49.9" y="304.9" textLength="15.7" lengthAdjust="spacingAndGlyphs">35</text><text x="49.9" y="271.5" textLength="15.7" lengthAdjust="spacingAndGlyphs">40</text><text x="49.9" y="238.1" textLength="15.7" lengthAdjust="spacingAndGlyphs">45</text><text x="49.9" y="204.7" textLength="15.7" lengthAdjust="spacingAndGlyphs">50</text><text x="49.9" y="171.3" textLength="15.7" lengthAdjust="spacingAndGlyphs">55</text><text x="49.9" y="137.9" textLength="15.7" lengthAdjust="spacingAndGlyphs">60</text><text x="49.9" y="104.5" textLength="15.7" lengthAdjust="spacingAndGlyphs">65</text><text x="49.9" y="71.1" textLength="15.7" lengthAdjust="spacingAndGlyphs">70</text><text x="49.9" y="37.7" textLength="15.7" lengthAdjust="spacingAndGlyphs">75</text></g>
<g font-size="14.6" fill="#de1a1a" text-anchor="start"><text x="1621.6" y="705.7" textLength="33.5" lengthAdjust="spacingAndGlyphs">2000</text><text x="1621.6" y="638.9" textLength="33.5" lengthAdjust="spacingAndGlyphs">3000</text><text x="1621.6" y="572.1" textLength="33.5" lengthAdjust="spacingAndGlyphs">4000</text><text x="1621.6" y="505.3" textLength="33.5" lengthAdjust="spacingAndGlyphs">5000</text><text x="1621.6" y="438.5" textLength="33.5" lengthAdjust="spacingAndGlyphs">6000</text><text x="1621.6" y="371.7" textLength="33.5" lengthAdjust="spacingAndGlyphs">7000</text></g>
<g font-size="14.6" fill="#000000" text-anchor="middle"><text transform="translate(153.5,733.6) rotate(-25)" x="0" y="5.1" textLength="78.6" lengthAdjust="spacingAndGlyphs">2018-08-05</text><text transform="translate(235.0,733.6) rotate(-25)" x="0" y="5.1" textLength="78.6" lengthAdjust="spacingAndGlyphs">2018-08-19</text><text transform="translate(316.6,733.6) rotate(-25)" x="0" y="5.1" textLength="78.6" lengthAdjust="spacingAndGlyphs">2018-09-02</text><text transform="translate(398.1,733.6) rotate(-25)" x="0" y="5.1" textLength="78.6" lengthAdjust="spacingAndGlyphs">2018-09-16</text><text transform="translate(479.6,733.6) rotate(-25)" x="0" y="5.1" textLength="78.6" lengthAdjust="spacingAndGlyphs">2018-09-30</text><text transform="translate(561.2,733.6) rotate(-25)" x="0" y="5.1" textLength="78.6" lengthAdjust="spacingAndGlyphs">2018-10-14</text><text transform="translate(642.8,733.6) rotate(-25)" x="0" y="5.1" textLength="78.6" lengthAdjust="spacingAndGlyphs">2018-10-28</text><text transform="translate(724.3,733.6) rotate(-25)" x="0" y="5.1" textLength="78.6" lengthAdjust="spacingAndGlyphs">2018-11-11</text><text transform="translate(805.9,733.6) rotate(-25)" x="0" y="5.1" textLength="78.6" lengthAdjust="spacingAndGlyphs">2018-11-25</text><text transform="translate(887.4,733.6) rotate(-25)" x="0" y="5.1" textLength="78.6" lengthAdjust="spacingAndGlyphs">2018-12-09</text><text transform="translate(969.0,733.6) rotate(-25)" x="0" y="5.1" textLength="78.6" lengthAdjust="spacingAndGlyphs">2018-12-23</text><text transform="translate(1050.5,733.6) rotate(-25)" x="0" y="5.1" textLength="78.6" lengthAdjust="spacingAndGlyphs">2019-01-06</text><text transform="translate(1132.0,733.6) rotate(-25)" x="0" y="5.1" textLength="78.6" lengthAdjust="spacingAndGlyphs">2019-01-20</text><text transform="translate(1213.6,733.6) rotate(-25)" x="0" y="5.1" textLength="78.6" lengthAdjust="spacingAndGlyphs">2019-02-03</text><text transform="translate(1295.2,733.6) rotate(-25)" x="0" y="5.1" textLength="78.6" lengthAdjust="spacingAndGlyphs">2019-02-17</text><text transform="translate(1376.7,733.6) rotate(-25)" x="0" y="5.1" textLength="78.6" lengthAdjust="spacingAndGlyphs">2019-03-03</text><text transform="translate(1458.3,733.6) rotate(-25)" x="0" y="5.1" textLength="78.6" lengthAdjust="spacingAndGlyphs">2019-03-17</text><text transform="translate(1539.8,733.6) rotate(-25)" x="0" y="5.1" textLength="78.6" lengthAdjust="spacingAndGlyphs">2019-03-31</text></g>
<text x="836.25" y="24.3" font-size="17.5" fill="#000000" text-anchor="middle" textLength="529.8" lengthAdjust="spacingAndGlyphs">Daily Distribution of the Number of Trips by Customer Category</text>
<text x="836.1" y="775.6" font-size="17.5" fill="#000000" text-anchor="middle" textLength="38.4" lengthAdjust="spacingAndGlyphs">Date</text>
<text transform="translate(22.6,365.6) rotate(-90)" font-size="17.5" fill="#1414b4" text-anchor="middle" textLength="287.0" lengthAdjust="spacingAndGlyphs">Distribution of the Number of Trips</text>
<text transform="translate(1674.6,367.1) rotate(-90)" font-size="17.5" fill="#de1a1a" text-anchor="middle" textLength="181.8" lengthAdjust="spacingAndGlyphs">Daily Number of Trips</text>
</svg></body></html>
